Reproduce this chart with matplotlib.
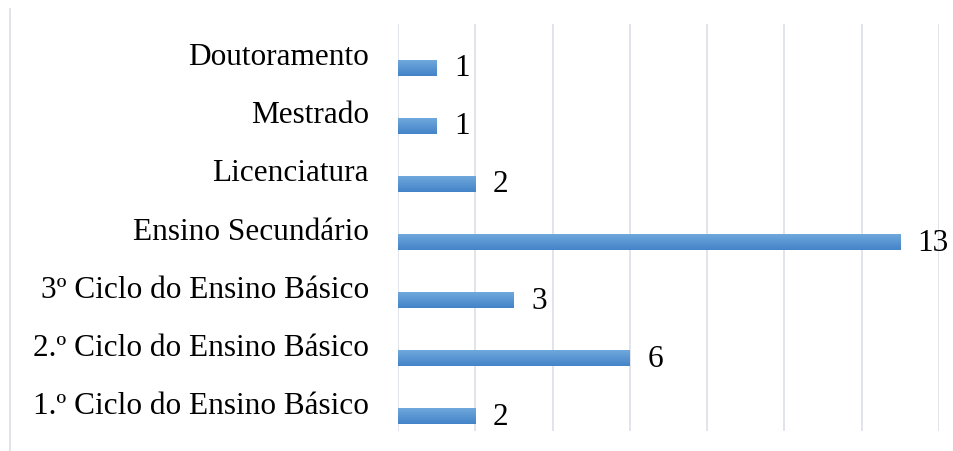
import numpy as np
import matplotlib.pyplot as plt
from matplotlib.lines import Line2D
from matplotlib.colors import LinearSegmentedColormap

categories = ['1.º Ciclo do Ensino Básico', '2.º Ciclo do Ensino Básico',
              '3º Ciclo do Ensino Básico', 'Ensino Secundário',
              'Licenciatura', 'Mestrado', 'Doutoramento']
values = [2, 6, 3, 13, 2, 1, 1]

plt.rcParams['font.family'] = ['Liberation Serif', 'DejaVu Serif']

fig = plt.figure(figsize=(9.54, 4.52), dpi=100)
ax = fig.add_axes([398 / 954, 1 - 432 / 452, (939 - 398) / 954, (432 - 25) / 452])

pos = np.arange(len(categories))
# bars sit a bit below the category centre (second series slot)
bar_y = pos - 0.25
bars = ax.barh(bar_y, values, height=0.275, color='#5b9bd5', zorder=2)

# vertical gradient on each bar
grad = np.linspace(0, 1, 64).reshape(-1, 1)
cmap = LinearSegmentedColormap.from_list('bar', ['#4383c8', '#6fa8dc'])
for b in bars:
    x0, y0 = b.get_x(), b.get_y()
    w, h = b.get_width(), b.get_height()
    ax.imshow(grad, cmap=cmap, aspect='auto', origin='lower',
              extent=(x0, x0 + w, y0, y0 + h), zorder=3)

for y, v in zip(bar_y, values):
    ax.text(v + 0.45, y, str(v), va='center', ha='left', fontsize=22.5)

ax.set_xlim(0, 14)
ax.set_ylim(-0.5, len(categories) - 0.5)
ax.set_xticks(np.arange(0, 15, 2))
ax.set_yticks(pos)
ax.set_yticklabels(categories, fontsize=22.5)
ax.tick_params(axis='x', labelbottom=False, length=0)
ax.tick_params(axis='y', length=0, pad=21)
ax.grid(axis='x', color='#e1e4ea', linewidth=1.4, zorder=0)
ax.set_axisbelow(True)
for s in ax.spines.values():
    s.set_visible(False)

fig.add_artist(Line2D([10 / 954, 10 / 954], [0, 1 - 10 / 452],
                      color='#e1e4ea', linewidth=1.4, transform=fig.transFigure))

fig.savefig('out.png', dpi=100)
